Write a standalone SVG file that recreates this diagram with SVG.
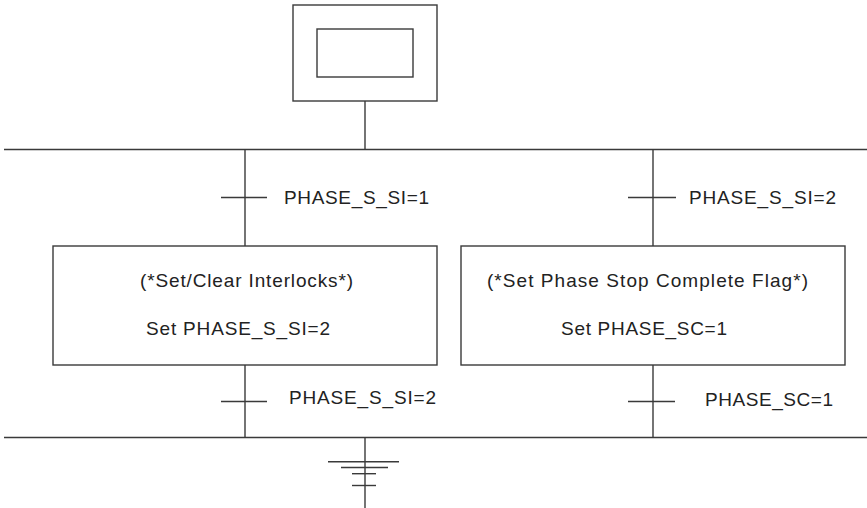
<svg xmlns="http://www.w3.org/2000/svg" width="867" height="508" viewBox="0 0 867 508">
<style>
.ln{stroke:#3a3a3a;stroke-width:1.4;fill:none}
.bx{stroke:#3a3a3a;stroke-width:1.4;fill:#fff}
.t{font-family:"Liberation Sans",Arial,sans-serif;font-size:19px;fill:#222}
</style>
<rect width="867" height="508" fill="#fff"/>
<g id="connectors">
<line class="ln" x1="365" y1="101" x2="365" y2="149.5"/>
<line class="ln" x1="4" y1="149.5" x2="867" y2="149.5"/>
<line class="ln" x1="245" y1="149.5" x2="245" y2="246"/>
<line class="ln" x1="653" y1="149.5" x2="653" y2="246"/>
<line class="ln" x1="245" y1="365" x2="245" y2="437.5"/>
<line class="ln" x1="653" y1="365" x2="653" y2="437.5"/>
<line class="ln" x1="4" y1="437.5" x2="867" y2="437.5"/>
<line class="ln" x1="365" y1="437.5" x2="365" y2="508"/>
</g>
<g id="initial-step">
<rect class="bx" x="293" y="5" width="144" height="96"/>
<rect class="bx" x="317" y="29" width="96" height="48"/>
</g>
<g id="transition-1">
<line class="ln" x1="221" y1="197.5" x2="267" y2="197.5"/>
<text class="t" x="284" y="204" textLength="145" lengthAdjust="spacing">PHASE_S_SI=1</text>
</g>
<g id="transition-2">
<line class="ln" x1="628" y1="197.5" x2="676" y2="197.5"/>
<text class="t" x="689" y="204" textLength="147" lengthAdjust="spacing">PHASE_S_SI=2</text>
</g>
<g id="step-interlocks">
<rect class="bx" x="53" y="246" width="384" height="119"/>
<text class="t" x="140" y="287" textLength="213" lengthAdjust="spacing">(*Set/Clear Interlocks*)</text>
<text class="t" x="146" y="335" textLength="184" lengthAdjust="spacing">Set PHASE_S_SI=2</text>
</g>
<g id="step-complete">
<rect class="bx" x="461" y="246" width="384" height="119"/>
<text class="t" x="487" y="287" textLength="321" lengthAdjust="spacing">(*Set Phase Stop Complete Flag*)</text>
<text class="t" x="561" y="335" textLength="166" lengthAdjust="spacing">Set PHASE_SC=1</text>
</g>
<g id="transition-3">
<line class="ln" x1="221" y1="401.5" x2="267" y2="401.5"/>
<text class="t" x="289" y="404" textLength="147" lengthAdjust="spacing">PHASE_S_SI=2</text>
</g>
<g id="transition-4">
<line class="ln" x1="628" y1="401.5" x2="675" y2="401.5"/>
<text class="t" x="705" y="406" textLength="128" lengthAdjust="spacing">PHASE_SC=1</text>
</g>
<g id="end">
<line class="ln" x1="328" y1="461.7" x2="399" y2="461.7"/>
<line class="ln" x1="341" y1="467.5" x2="388" y2="467.5"/>
<line class="ln" x1="352" y1="473.7" x2="376" y2="473.7"/>
<line class="ln" x1="352" y1="485.5" x2="376" y2="485.5"/>
</g>
</svg>
